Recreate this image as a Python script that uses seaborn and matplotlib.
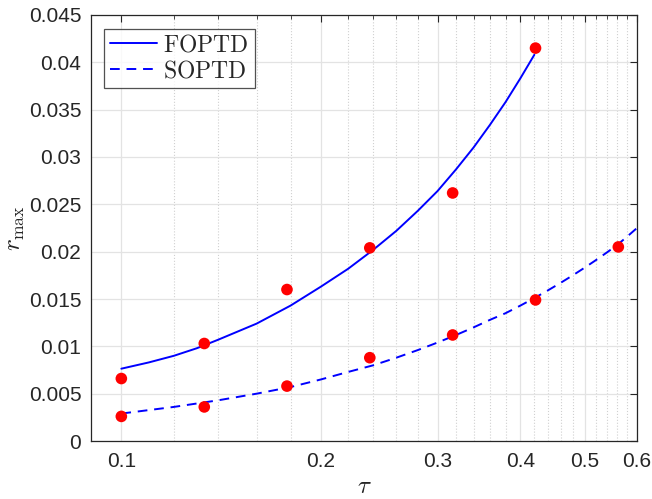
import matplotlib
matplotlib.use("Agg")
import matplotlib.pyplot as plt
import numpy as np
import pandas as pd
import seaborn as sns
from matplotlib.ticker import FixedLocator, NullFormatter

# %% data
tau_fo = [0.10, 0.11, 0.12, 0.13, 0.14, 0.16, 0.18, 0.20, 0.22, 0.24, 0.26, 0.28,
          0.30, 0.32, 0.34, 0.36, 0.38, 0.40, 0.42]
r_fo = [0.00764, 0.0083, 0.0090, 0.0098, 0.0107, 0.0124, 0.0143, 0.0163,
        0.0182, 0.0202, 0.0222, 0.0243, 0.0264, 0.0287, 0.0310, 0.0334,
        0.0358, 0.0383, 0.0408]

tau_so = [0.10, 0.12, 0.14, 0.16, 0.18, 0.20, 0.22, 0.24, 0.26, 0.28,
          0.30, 0.32, 0.34, 0.36, 0.38, 0.40, 0.42, 0.44, 0.46, 0.48,
          0.50, 0.52, 0.54, 0.56, 0.58, 0.60]
r_so = [0.0029, 0.0036, 0.0043, 0.0050, 0.0057, 0.0065, 0.0073, 0.0080,
        0.0088, 0.0096, 0.0104, 0.0112, 0.0120, 0.0128, 0.0135, 0.0143,
        0.0151, 0.0159, 0.0167, 0.0175, 0.0183, 0.0191, 0.0199, 0.0207,
        0.0216, 0.0225]

tau_pts_fo = [0.1, 0.1334, 0.1778, 0.2371, 0.3162, 0.4217]
r_pts_fo = [0.0066, 0.0103, 0.0160, 0.0204, 0.0262, 0.0415]
tau_pts_so = [0.1, 0.1334, 0.1778, 0.2371, 0.3162, 0.4217, 0.5623]
r_pts_so = [0.0026, 0.0036, 0.0058, 0.0088, 0.0112, 0.0149, 0.0205]

xticks = [0.1, 0.2, 0.3, 0.4, 0.5, 0.6]
xticklabels = ["0.1", "0.2", "0.3", "0.4", "0.5", "0.6"]
xminor = [0.12, 0.14, 0.16, 0.18, 0.22, 0.24, 0.26, 0.28, 0.32, 0.34, 0.36,
          0.38, 0.42, 0.44, 0.46, 0.48, 0.52, 0.54, 0.56, 0.58]
yticks = [0, 0.005, 0.01, 0.015, 0.02, 0.025, 0.03, 0.035, 0.04, 0.045]
yticklabels = ["0", "0.005", "0.01", "0.015", "0.02", "0.025", "0.03",
               "0.035", "0.04", "0.045"]

fo = pd.DataFrame({"tau": tau_fo, "r": r_fo})
so = pd.DataFrame({"tau": tau_so, "r": r_so})
pts = pd.DataFrame({"tau": tau_pts_fo + tau_pts_so, "r": r_pts_fo + r_pts_so})

# %% plot
sns.set_style("white")
plt.rcParams["font.family"] = ["Liberation Sans", "DejaVu Sans"]
plt.rcParams["mathtext.fontset"] = "cm"

dark = "#262626"
fig = plt.figure(figsize=(6.52, 4.99), dpi=100)
ax = fig.add_axes([0.1396, 0.1162, 0.8374, 0.8538])

sns.lineplot(data=fo, x="tau", y="r", ax=ax, color="#0000ff", lw=1.4,
             label=r"$\mathrm{FOPTD}$", sort=False)
sns.lineplot(data=so, x="tau", y="r", ax=ax, color="#0000ff", lw=1.4,
             linestyle=(0, (5, 3.5)), label=r"$\mathrm{SOPTD}$", sort=False)
sns.scatterplot(data=pts, x="tau", y="r", ax=ax, color="#ff0000", s=70,
                edgecolor="none", zorder=3)

ax.set_xscale("log")
ax.set_xlim(0.09, 0.6)
ax.set_ylim(0, 0.045)
ax.xaxis.set_major_locator(FixedLocator(xticks))
ax.set_xticklabels(xticklabels)
ax.xaxis.set_minor_locator(FixedLocator(xminor))
ax.xaxis.set_minor_formatter(NullFormatter())
ax.set_yticks(yticks)
ax.set_yticklabels(yticklabels)

ax.grid(True, which="major", color="#e3e3e3", lw=0.9, ls="-")
ax.grid(True, which="minor", axis="x", color="#d0d0d0", lw=0.8, ls=":")
ax.set_axisbelow(True)

ax.tick_params(which="both", direction="in", top=True, right=True,
               colors=dark, labelsize=15, labelcolor=dark)
ax.tick_params(which="major", length=5, width=0.8)
ax.tick_params(which="minor", length=3, width=0.6)
ax.tick_params(axis="x", pad=8)
ax.tick_params(axis="y", pad=7)
for s in ax.spines.values():
    s.set_color(dark)
    s.set_linewidth(0.9)

ax.set_xlabel(r"$\tau$", fontsize=18, color=dark, labelpad=2)
ax.set_ylabel(r"$r_{\max}$", fontsize=18, color=dark, labelpad=1)

leg = ax.legend(loc="upper left", bbox_to_anchor=(0.024, 0.968), fontsize=17,
                frameon=True, fancybox=False, edgecolor=dark, handlelength=2.0,
                borderpad=0.25, labelspacing=0.15, handletextpad=0.25,
                borderaxespad=0)
leg.get_frame().set_linewidth(0.9)

fig.savefig("out.png", dpi=100)
